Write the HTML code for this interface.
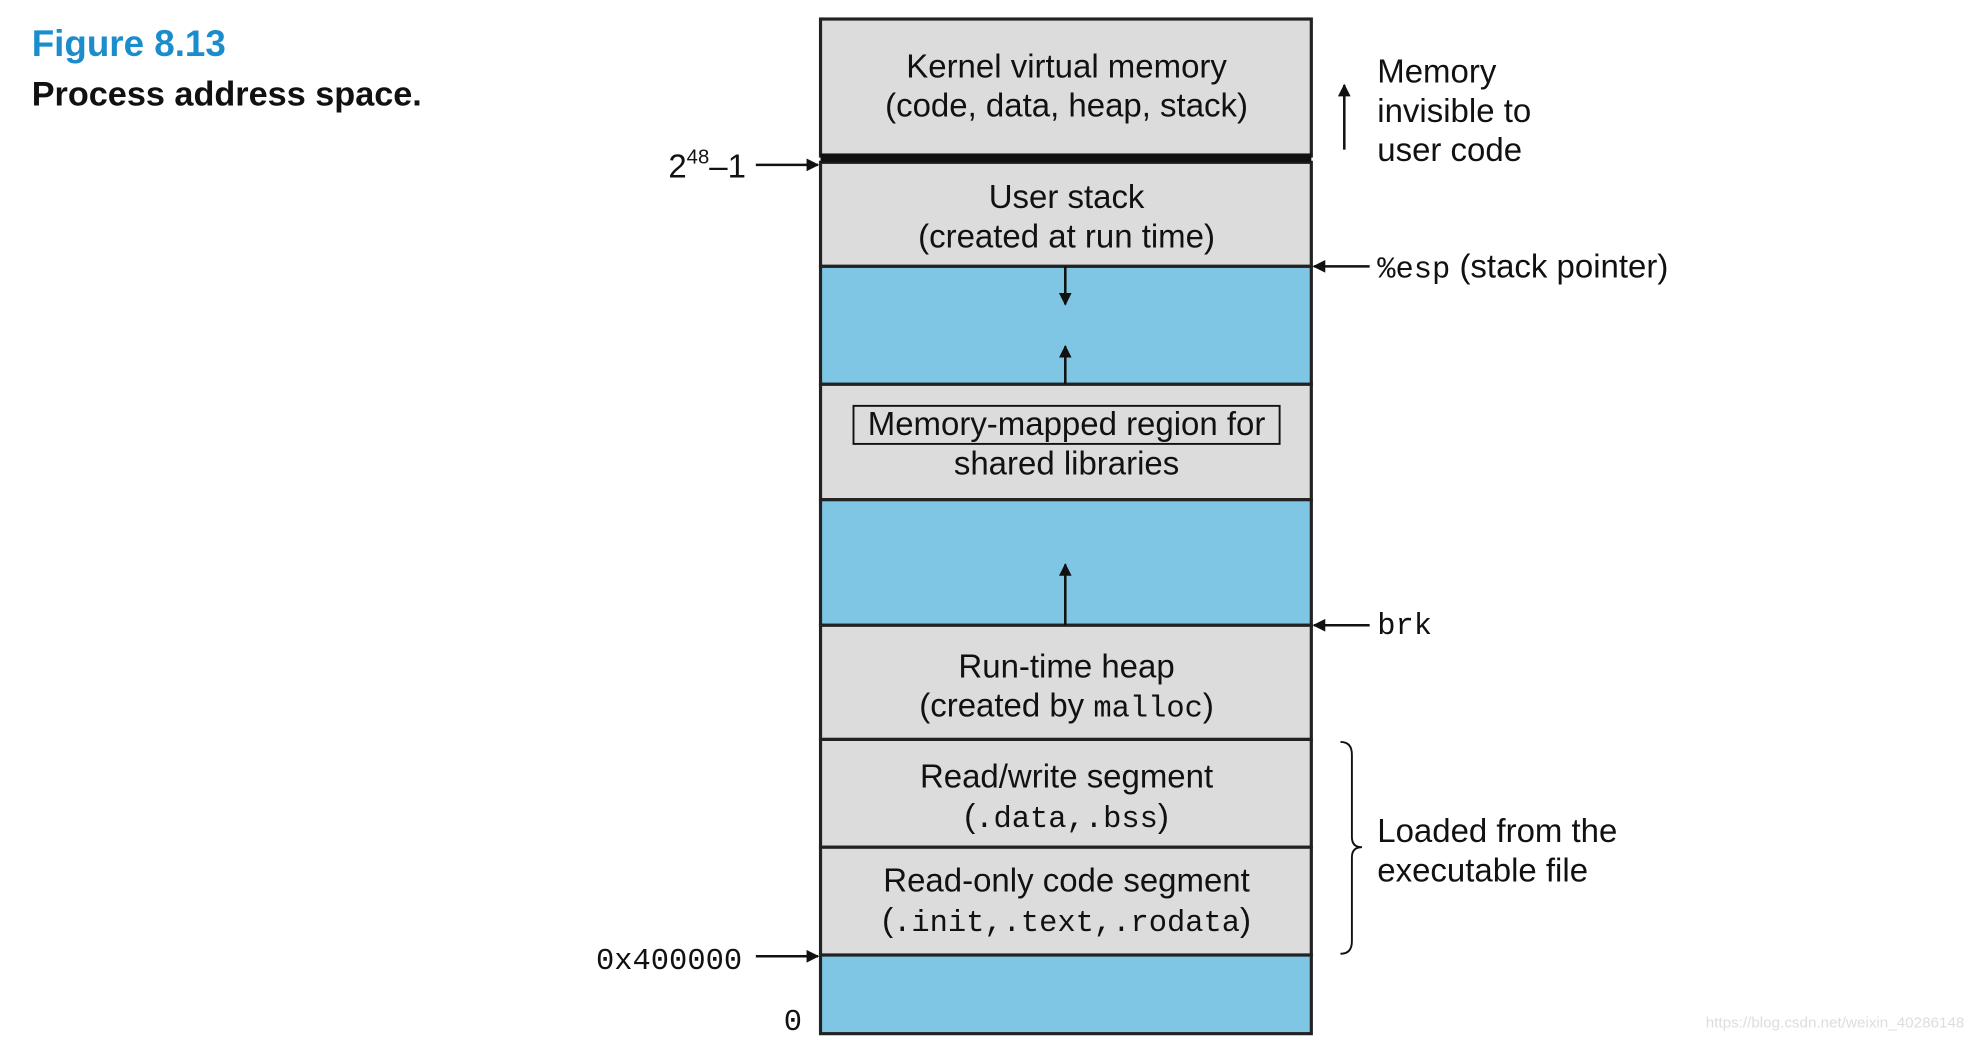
<!DOCTYPE html>
<html><head><meta charset="utf-8"><style>
html,body{margin:0;padding:0;background:#fff;}
svg{display:block;}
.s{font-family:"Liberation Sans",sans-serif;font-size:26px;fill:#111;}
.m{font-family:"Liberation Mono",monospace;font-size:24px;fill:#111;}
</style></head><body>
<svg width="1986" height="1040" viewBox="0 0 1566 820" preserveAspectRatio="none" xmlns="http://www.w3.org/2000/svg">
<defs><marker id="a" markerWidth="10" markerHeight="10" refX="9" refY="5" orient="auto" markerUnits="userSpaceOnUse"><path d="M0,0 L10,5 L0,10 z" fill="#111"/></marker></defs>
<text x="25" y="44" font-family="Liberation Sans,sans-serif" font-weight="bold" font-size="29" fill="#1b8ccc">Figure 8.13</text>
<text x="25" y="83" font-family="Liberation Sans,sans-serif" font-weight="bold" font-size="27" fill="#111">Process address space.</text>
<g stroke="#222" stroke-width="2.5">
<rect x="647" y="15" width="387" height="108" fill="#dcdcdc"/>
<rect x="647" y="128" width="387" height="82" fill="#dcdcdc"/>
<rect x="647" y="210" width="387" height="93" fill="#7fc6e4"/>
<rect x="647" y="303" width="387" height="91" fill="#dcdcdc"/>
<rect x="647" y="394" width="387" height="99" fill="#7fc6e4"/>
<rect x="647" y="493" width="387" height="90" fill="#dcdcdc"/>
<rect x="647" y="583" width="387" height="85" fill="#dcdcdc"/>
<rect x="647" y="668" width="387" height="85" fill="#dcdcdc"/>
<rect x="647" y="753" width="387" height="62" fill="#7fc6e4"/>
</g>
<rect x="647" y="121" width="387" height="7" fill="#111"/>
<g stroke="#111" stroke-width="2" fill="none">
<line x1="840" y1="210" x2="840" y2="240" marker-end="url(#a)"/>
<line x1="840" y1="303" x2="840" y2="273" marker-end="url(#a)"/>
<line x1="840" y1="493" x2="840" y2="445" marker-end="url(#a)"/>
<line x1="596" y1="130" x2="645" y2="130" marker-end="url(#a)"/>
<line x1="596" y1="754" x2="645" y2="754" marker-end="url(#a)"/>
<line x1="1080" y1="210" x2="1036" y2="210" marker-end="url(#a)"/>
<line x1="1080" y1="493" x2="1036" y2="493" marker-end="url(#a)"/>
<line x1="1060" y1="118" x2="1060" y2="67" marker-end="url(#a)"/>
<rect x="673" y="320" width="336" height="30" stroke-width="1.5"/>
<path d="M1057,585 Q1066,585 1066,595 L1066,660 Q1066,668 1074,668 Q1066,668 1066,676 L1066,742 Q1066,752 1057,752" stroke-width="1.5"/>
</g>
<g class="s" text-anchor="middle">
<text x="841" y="61">Kernel virtual memory</text>
<text x="841" y="92">(code, data, heap, stack)</text>
<text x="841" y="164">User stack</text>
<text x="841" y="195">(created at run time)</text>
<text x="841" y="343">Memory-mapped region for</text>
<text x="841" y="374">shared libraries</text>
<text x="841" y="534">Run-time heap</text>
<text x="841" y="565">(created by <tspan class="m">malloc</tspan>)</text>
<text x="841" y="621">Read/write segment</text>
<text x="841" y="652">(<tspan class="m">.data,.bss</tspan>)</text>
<text x="841" y="703">Read-only code segment</text>
<text x="841" y="734">(<tspan class="m">.init,.text,.rodata</tspan>)</text>
</g>
<g class="s">
<text x="1086" y="65">Memory</text>
<text x="1086" y="96">invisible to</text>
<text x="1086" y="127">user code</text>
<text x="1086" y="219"><tspan class="m">%esp</tspan> (stack pointer)</text>
<text x="1086" y="664">Loaded from the</text>
<text x="1086" y="695">executable file</text>
</g>
<text class="m" x="1086" y="500">brk</text>
<text class="s" x="527" y="140">2<tspan font-size="16" dy="-11">48</tspan><tspan dy="11">–1</tspan></text>
<text class="m" x="470" y="764">0x400000</text>
<text class="m" x="618" y="812">0</text>
<text x="1345" y="810" font-family="Liberation Sans,sans-serif" font-size="12" fill="#ddd">https://blog.csdn.net/weixin_40286148</text>
</svg>
</body></html>
